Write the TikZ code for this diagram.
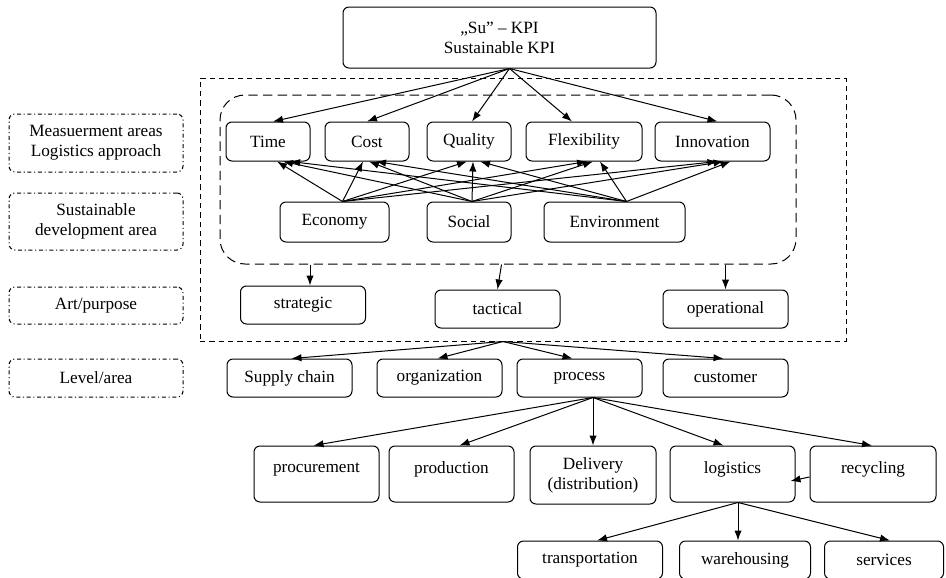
\documentclass[tikz,border=0pt]{standalone}
\usepackage{fontspec}
\setmainfont{Liberation Serif}
\usetikzlibrary{calc,arrows.meta}

\begin{document}
\begin{tikzpicture}[x=0.75pt,y=-0.75pt,font=\fontsize{12.9}{15}\selectfont]%% Su-KPI
                \tikzstyle{box}  = [draw, rounded corners=4.5pt, line width=0.75pt, align=center, inner sep=0pt, minimum height=28.5pt]
                \tikzstyle{side} = [box, dash pattern=on 3pt off 2pt on 0.8pt off 2pt, minimum width=130.5pt]
                \tikzstyle{lvl}  = [box, minimum width=93.75pt]
                \tikzstyle{area} = [box, minimum width=93.75pt, minimum height=42pt]
                \tikzstyle{arr}  = [-{Latex[length=7.5pt,width=5.5pt]}, line width=0.75pt]
                \useasboundingbox (0,0) rectangle (946,578);

                % dashed frames
                \node [draw, dash pattern=on 4pt off 3pt, line width=0.75pt, minimum width=484.5pt, minimum height=197.25pt, inner sep=0pt](frame) at (523,209.5) {};
                \node [draw, dash pattern=on 7pt off 4pt, line width=0.75pt, rounded corners=18.75pt, minimum width=432pt, minimum height=126.75pt, inner sep=0pt](sdarea) at (508,179.5) {};

                % left column
                \node [side, minimum height=43.5pt](meas) at (96,143) {Measuerment areas\\Logistics approach};
                \node [side, minimum height=42.75pt](sust) at (96,221.5) {Sustainable\\development area};
                \node [side, minimum height=27.75pt](purp) at (96,305.5) {Art/purpose};
                \node [side](level) at (96,378) {Level/area};

                % top
                \node [box, minimum width=234.75pt, minimum height=45.75pt](kpi) at (499.5,37.5) {„Su” – KPI\\Sustainable KPI};

                % measurement areas
                \node [box, minimum width=63pt, minimum height=29.25pt](time) at (268,141.5) {Time};
                \node [box, minimum width=63pt, minimum height=29.25pt](cost) at (367,141.5) {Cost};
                \node [box, minimum width=63pt, minimum height=29.25pt](qual) at (469,141.5) {Quality};
                \node [box, minimum width=87pt, minimum height=29.25pt](flex) at (584,141.5) {Flexibility};
                \node [box, minimum width=86.25pt, minimum height=29.25pt](innov) at (712.5,141.5) {Innovation};

                % sustainable development
                \node [box, minimum width=81.75pt, minimum height=30pt](eco) at (334.5,222) {Economy};
                \node [box, minimum width=63pt, minimum height=30pt](soc) at (469,222) {Social};
                \node [box, minimum width=105.75pt, minimum height=30pt](env) at (614.5,222) {Environment};

                % purpose
                \node [lvl](strat) at (303,305) {strategic};
                \node [lvl](tact) at (497.5,309) {tactical};
                \node [lvl](oper) at (725.5,309) {operational};

                % level
                \node [lvl](supply) at (289.5,378) {Supply chain};
                \node [lvl](org) at (439.5,378) {organization};
                \node [lvl](proc) at (579.5,378) {process};
                \node [lvl](cust) at (725.5,378) {customer};

                % process areas
                \node [area](procure) at (316.5,474) {procurement\\[-5pt]~};
                \node [area](prod) at (451.5,474) {production\\[-5pt]~};
                \node [area, minimum width=94.5pt, minimum height=43.5pt](deliv) at (593,475) {Delivery\\(distribution)};
                \node [area](logis) at (732.5,474) {logistics\\[-5pt]~};
                \node [area, minimum width=94.5pt](recyc) at (873,474) {recycling\\[-5pt]~};

                % logistics
                \node [lvl, minimum width=108.75pt](transp) at (590,560) {transportation};
                \node [lvl, minimum width=98.25pt](wareh) at (745,560) {warehousing};
                \node [lvl, minimum width=89.25pt](serv) at (884,560) {services};

                % arrows
                \coordinate (kpiout) at ($(kpi.south)+(10,0)$);
                \draw [arr] (kpiout) -- ($(time.north)+(5,0)$);
                \draw [arr] (kpiout) -- (cost.north);
                \draw [arr] (kpiout) -- ($(qual.north)+(3,0)$);
                \draw [arr] (kpiout) -- ($(flex.north)+(-12,0)$);
                \draw [arr] (kpiout) -- ($(innov.north)+(5,0)$);

                \coordinate (ecoout) at ($(eco.north)+(8,0)$);
                \coordinate (socout) at ($(soc.north)+(3,0)$);
                \coordinate (envout) at ($(env.north)+(12,0)$);
                \foreach \t/\s in {time/9,cost/-4,qual/-2,flex/3,innov/5}{
                        \draw [arr] (ecoout) -- ($(\t.south)+(\s,0)$);
                        \draw [arr] (socout) -- ($(\t.south)+(\s+6,0)$);
                        \draw [arr] (envout) -- ($(\t.south)+(\s+13,0)$);
                }

                \draw [arr] ($(sdarea.south -| strat.north)+(7,0)$) -- ($(strat.north)+(7,0)$);
                \draw [arr] ($(sdarea.south -| tact.north)+(4,0)$) -- (tact.north);
                \draw [arr] (sdarea.south -| oper.north) -- (oper.north);

                \coordinate (frameout) at ($(frame.south)+(-20,0)$);
                \foreach \n/\s in {supply/2,org/-2,proc/-7,cust/-2}{
                        \draw [arr] (frameout) -- ($(\n.north)+(\s,0)$);
                }

                \coordinate (procout) at ($(proc.south)+(13.5,0)$);
                \foreach \n/\s in {procure/-3,prod/8,deliv/0,logis/-9,recyc/-1}{
                        \draw [arr] (procout) -- ($(\n.north)+(\s,0)$);
                }
                \draw [arr] ($(recyc.west)+(0,3)$) -- ($(logis.east)+(-5,7)$);

                \coordinate (logout) at ($(logis.south)+(5.5,0)$);
                \draw [arr] (logout) -- ($(transp.north)+(7,0)$);
                \draw [arr] (logout) -- ($(wareh.north)+(-7,0)$);
                \draw [arr] (logout) -- ($(serv.north)+(6,0)$);
\end{tikzpicture}
\end{document}
